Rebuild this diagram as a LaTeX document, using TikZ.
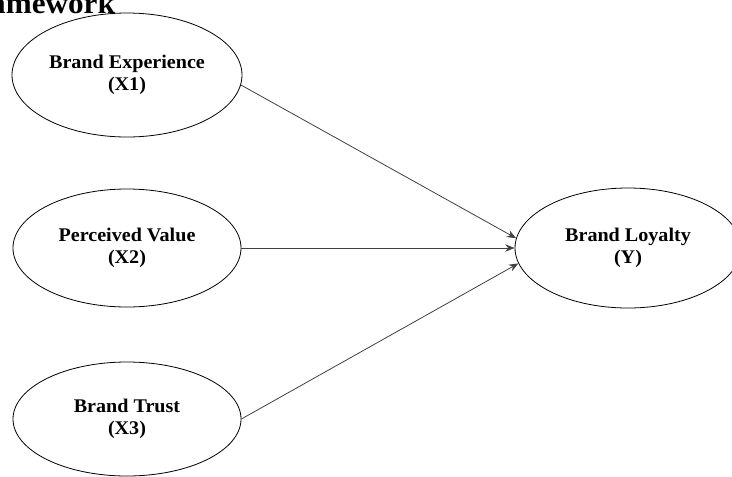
\documentclass[tikz,border=0pt]{standalone}
\usepackage{fontspec}
\newfontfamily\diagfont[FakeStretch=1.04]{Liberation Serif}
\usetikzlibrary{shapes.geometric, arrows, arrows.meta, positioning}
\tikzstyle{arrow} = [->,>={Stealth[length=7pt,width=5.5pt]}, draw=black!75, line width=0.6pt]
\tikzstyle{construct} = [ellipse, draw=black, line width=0.6pt, inner xsep=-20pt, inner ysep=-6pt, align=center, font=\diagfont\bfseries\fontsize{14.5}{16.5}\selectfont]

\begin{document}
\begin{tikzpicture}[x=0.75pt, y=-0.75pt]
\useasboundingbox (0,0) rectangle (732,476);
%----------------------------------------------------------------------------
% Heading (cut off at the top edge)
\node (heading) [anchor=base west, inner sep=0pt, font=\diagfont\bfseries\fontsize{22.5}{26}\selectfont] at (-43,13) {Framework};

%----------------------------------------------------------------------------
% Placement of the constructs
\node (brandExp) [construct, minimum width=172.5pt, minimum height=93pt] at (127,75)
{Brand Experience\\(X1)};

\node (percValue) [construct, minimum width=171pt, minimum height=88.5pt] at (127,248)
{Perceived Value\\(X2)};

\node (brandTrust) [construct, minimum width=171pt, minimum height=85.5pt] at (127,419)
{Brand Trust\\(X3)};

\node (brandLoyal) [construct, minimum width=169.5pt, minimum height=90pt] at (628,248)
{Brand Loyalty\\(Y)};

%----------------------------------------------------------------------------
% Paths
\draw [arrow] (brandExp.-5) -- (brandLoyal.175);
\draw [arrow] (percValue.east) -- (brandLoyal.west);
\draw [arrow] (brandTrust.east) -- (brandLoyal.188);
\end{tikzpicture}
\end{document}
